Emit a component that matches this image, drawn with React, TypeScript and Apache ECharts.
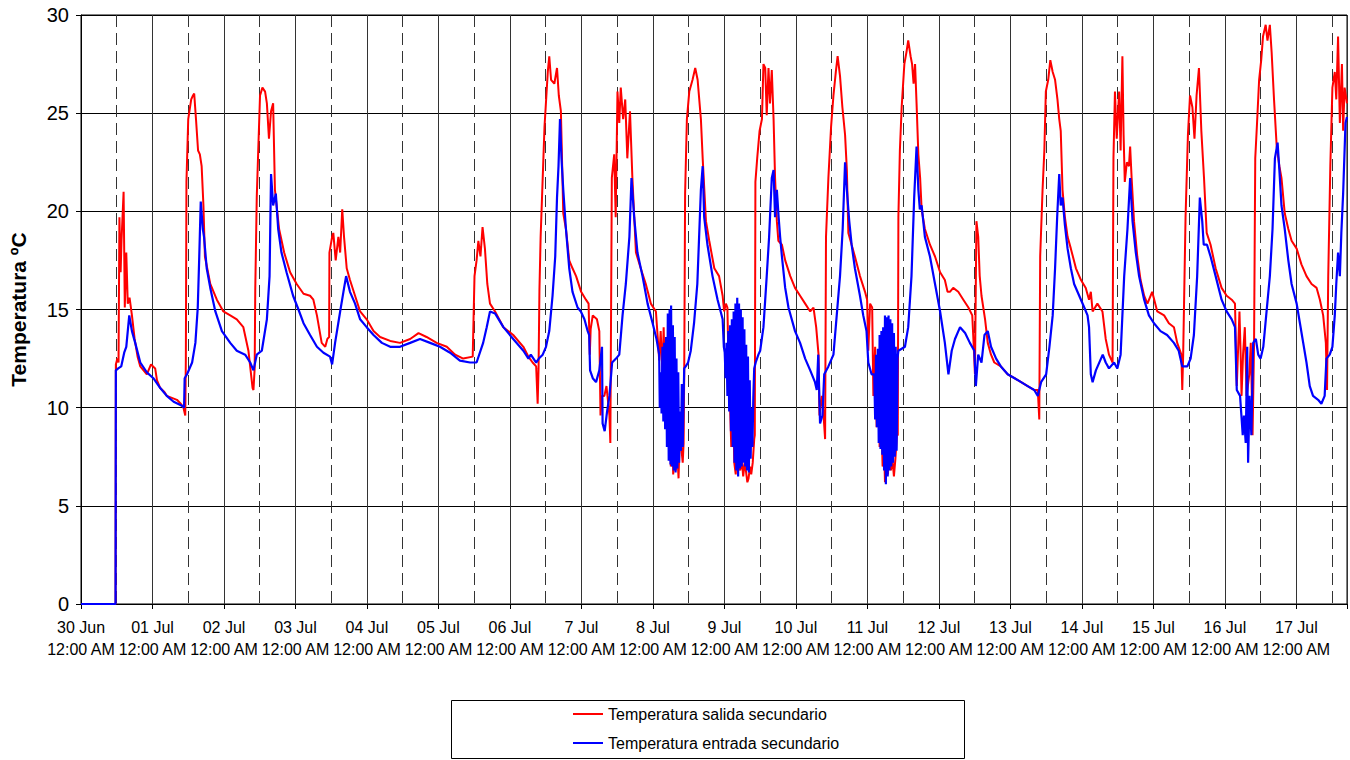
import React, { useEffect, useRef } from "react";
import * as echarts from "echarts";

// Hours since 30 Jun 12:00 AM → temperature (ºC)
const dayLabels = [
  "30 Jun", "01 Jul", "02 Jul", "03 Jul", "04 Jul", "05 Jul", "06 Jul", "7 Jul", "8 Jul",
  "9 Jul", "10 Jul", "11 Jul", "12 Jul", "13 Jul", "14 Jul", "15 Jul", "16 Jul", "17 Jul",
];
const timeLabel = "12:00 AM";
const seriesNames = ["Temperatura salida secundario", "Temperatura entrada secundario"];
const yAxisName = "Temperatura ºC";

const salidaSecundario: [number, number][] = [
  [0, 0], [11.6, 0], [11.7, 12.2], [12.2, 12.5], [12.6, 12.3], [12.9, 19.7], [13.3, 16.9], [13.6, 18.5],
  [14.3, 21.0], [14.7, 15.1], [15.2, 17.9], [15.7, 15.3], [16.3, 15.6], [17.1, 14.7], [18.0, 13.5],
  [19.0, 12.6], [19.9, 12.1], [21, 11.9], [22.1, 11.7], [23.5, 12.2], [24.9, 12.0], [25.5, 11.4],
  [26.6, 11.0], [28, 10.8], [28.8, 10.6], [30.5, 10.5], [32.2, 10.4], [33.5, 10.2], [34.4, 10.0],
  [35.0, 9.6], [35.2, 12.5], [35.4, 21.5], [36.0, 24.7], [37.0, 25.7], [37.6, 25.9], [38.0, 26.0],
  [38.6, 24.7], [39.3, 23.1], [39.9, 22.9], [40.5, 22.3], [41.1, 20.3], [41.6, 17.7], [43.4, 16.3],
  [45.6, 15.5], [47.8, 14.9], [50.1, 14.7], [52.3, 14.5], [54.5, 14.1], [56.2, 12.9], [57.6, 11.0],
  [57.9, 10.9], [58.3, 12.0], [58.5, 16], [59.0, 20.7], [59.5, 23.1], [60.1, 25.9], [60.9, 26.3],
  [61.8, 26.1], [62.4, 25.5], [63.1, 23.7], [63.8, 25.1], [64.5, 25.5], [65.1, 21.1], [66.5, 19.1],
  [68.2, 17.9], [70.2, 16.9], [72.4, 16.3], [74.7, 15.8], [76.9, 15.7], [78.0, 15.5], [79.2, 14.7],
  [80.8, 13.3], [82.0, 13.1], [82.7, 13.5], [83.3, 13.6], [83.4, 17.9], [84.3, 18.7], [84.7, 18.9],
  [85.5, 17.5], [86.4, 18.7], [87.0, 17.9], [87.7, 20.1], [88.3, 18.7], [89.2, 17.1], [90.3, 16.5],
  [92.0, 15.7], [93.7, 14.9], [95.9, 14.5], [98.2, 13.9], [100.4, 13.6], [103.8, 13.4], [107.1, 13.3],
  [110.5, 13.5], [113.3, 13.8], [116.0, 13.6], [119.4, 13.3], [122.8, 13.1], [125.6, 12.7],
  [128.3, 12.5], [131.5, 12.6], [132.1, 16.7], [132.8, 17.5], [133.4, 18.5], [134.1, 17.7],
  [134.8, 19.2], [135.6, 18.1], [136.4, 16.3], [137.3, 15.3], [139.0, 14.9], [141.8, 14.1],
  [145.1, 13.7], [148.5, 13.1], [150.2, 12.6], [151.6, 12.3], [152.8, 12.1], [153.3, 10.2],
  [153.6, 12.0], [153.9, 16.0], [154.3, 18.7], [155.6, 24.3], [156.7, 27.1], [157.2, 27.9],
  [157.8, 26.7], [158.9, 26.5], [159.8, 27.3], [160.4, 25.9], [161.1, 25.1], [161.9, 19.9],
  [162.8, 19.1], [163.9, 17.5], [165.0, 17.1], [166.2, 16.7], [167.9, 15.9], [169.5, 15.5],
  [170.4, 15.3], [170.8, 12.7], [171.1, 14.0], [171.8, 14.7], [173.2, 14.5], [174.0, 13.9],
  [174.4, 9.6], [174.9, 10.6], [175.7, 10.6], [176.4, 11.1], [177.4, 9.6], [177.7, 8.2], [178.2, 21.7],
  [179.0, 22.9], [179.5, 19.7], [180.1, 26.1], [180.7, 24.5], [181.2, 26.3], [182.0, 24.7],
  [182.7, 25.7], [183.4, 22.7], [184.3, 25.1], [185.1, 21.7], [186.3, 17.9], [187.9, 17.1],
  [189.6, 16.3], [191.3, 15.3], [193.0, 14.9], [193.6, 13.6], [194.1, 12.4], [194.6, 13.9],
  [195.2, 11.7], [195.6, 14.1], [196.0, 11.5], [196.4, 9.0], [196.8, 12.5], [197.2, 8.0],
  [197.6, 10.5], [198.0, 7.0], [198.4, 9.5], [198.8, 6.6], [199.2, 7.5], [199.7, 6.8], [200.1, 8.0],
  [200.6, 6.4], [201.0, 8.6], [201.5, 8.0], [202.0, 7.2], [202.3, 8.2], [202.5, 11.7], [202.8, 20.9],
  [203.4, 24.7], [204.2, 26.1], [205.3, 26.7], [206.2, 27.3], [207.0, 26.7], [208.1, 24.7],
  [208.7, 22.7], [209.8, 19.5], [210.9, 18.5], [212.6, 17.1], [214.2, 16.7], [215.4, 15.7],
  [215.9, 14.9], [216.5, 15.3], [217.0, 15.1], [217.4, 12.0], [217.8, 10.5], [218.3, 8.0],
  [218.8, 11], [219.3, 7.2], [219.8, 6.6], [220.3, 8.5], [220.8, 7.0], [221.3, 6.8], [221.8, 7.4],
  [222.3, 6.5], [222.8, 7.2], [223.2, 6.8], [223.7, 6.2], [224.1, 6.4], [224.6, 7.0], [225.0, 6.6],
  [225.5, 7.2], [226.0, 8.4], [226.2, 8.6], [226.4, 21.5], [227.0, 22.7], [227.8, 24.1], [228.6, 24.7],
  [229.1, 27.5], [229.7, 27.3], [230.2, 24.9], [230.8, 27.3], [231.3, 25.5], [231.9, 27.2],
  [232.5, 24.7], [233.0, 21.7], [233.6, 19.5], [234.1, 18.5], [235.3, 18.3], [236.4, 17.5],
  [238.1, 16.7], [239.7, 16.1], [241.4, 15.7], [243.1, 15.3], [244.8, 14.9], [245.9, 15.1],
  [246.8, 14.1], [247.6, 12.7], [247.9, 9.6], [248.7, 10.6], [249.2, 9.8], [249.8, 8.4], [250.1, 18.7],
  [250.9, 21.7], [251.8, 24.3], [252.6, 25.9], [253.4, 27.1], [254.0, 27.9], [254.8, 26.9],
  [255.6, 25.3], [256.5, 23.9], [257.1, 22.1], [257.6, 18.9], [258.7, 18.3], [259.8, 17.7],
  [261.5, 16.7], [263.2, 15.9], [263.9, 15.5], [264.3, 12.9], [264.9, 15.3], [265.6, 15.1],
  [266.0, 10.6], [266.6, 13.1], [267.1, 9.0], [267.6, 12.0], [268.1, 8.0], [268.6, 10.0], [269.1, 7.0],
  [269.6, 8.0], [269.9, 6.2], [270.4, 7.5], [270.9, 6.6], [271.4, 8.2], [271.9, 6.8], [272.4, 7.4],
  [272.9, 6.5], [273.4, 7.4], [273.9, 8.6], [274.2, 8.6], [274.4, 19.7], [274.9, 23.1], [275.5, 25.3],
  [276.4, 27.5], [277.1, 28.1], [277.7, 28.7], [278.5, 27.9], [279.0, 27.5], [279.5, 26.5],
  [280.0, 27.5], [280.5, 25.5], [281.1, 22.9], [281.7, 21.7], [282.2, 20.1], [283.3, 19.1],
  [285.0, 18.3], [286.7, 17.7], [288.4, 16.9], [290.0, 16.5], [290.9, 15.9], [291.7, 15.9],
  [292.8, 16.1], [294.5, 15.9], [296.2, 15.5], [297.9, 15.1], [299.2, 14.7], [299.7, 13.1],
  [300.1, 11.7], [300.6, 19.5], [301.2, 18.7], [301.7, 16.7], [302.3, 15.7], [303.5, 14.5],
  [304.4, 13.3], [305.5, 12.7], [306.6, 12.3], [308.8, 12.1], [311.1, 11.7], [313.4, 11.5],
  [315.6, 11.3], [317.8, 11.1], [320.0, 10.9], [321.2, 10.9], [321.7, 9.4], [322.0, 17.7],
  [322.8, 21.1], [323.4, 23.1], [323.9, 26.1], [324.7, 26.7], [325.4, 27.7], [326.2, 27.1],
  [327.0, 26.7], [327.8, 25.7], [328.4, 24.7], [328.9, 24.1], [329.5, 21.1], [330.3, 19.7],
  [331.2, 18.7], [332.3, 18.1], [334.0, 17.1], [335.7, 16.5], [337.3, 16.1], [338.4, 15.5],
  [339.0, 15.9], [339.6, 14.9], [341.2, 15.3], [342.9, 14.9], [344.0, 13.5], [345.1, 12.7],
  [346.3, 12.3], [346.6, 22.7], [347.1, 26.1], [347.7, 23.7], [348.5, 26.1], [349.0, 23.1],
  [349.6, 27.9], [350.0, 23.9], [350.4, 21.5], [351.1, 22.5], [351.8, 22.3], [352.2, 23.3],
  [352.7, 21.7], [353.5, 19.5], [354.6, 17.7], [355.7, 16.5], [356.9, 15.7], [358.0, 15.3],
  [359.6, 15.9], [361.3, 14.9], [363.6, 14.7], [365.2, 14.3], [366.9, 14.1], [368.0, 13.3],
  [369.4, 12.7], [369.7, 10.9], [370.0, 12.7], [370.8, 19.7], [371.6, 23.9], [372.3, 25.9],
  [373.1, 25.3], [373.8, 23.7], [374.5, 25.9], [375.3, 27.3], [376.1, 24.1], [377.0, 21.7],
  [377.9, 18.9], [379.2, 18.3], [380.9, 17.1], [382.9, 16.1], [384.6, 15.7], [386.3, 15.5],
  [387.4, 15.3], [388.0, 11.1], [388.9, 14.9], [389.3, 12.7], [389.6, 10.6], [390.1, 12.7],
  [390.7, 14.1], [391.3, 10.6], [392.2, 11.7], [392.7, 13.3], [393.3, 8.6], [393.8, 13.3],
  [394.2, 22.7], [394.8, 24.5], [395.5, 26.7], [396.2, 27.7], [396.8, 28.9], [397.7, 29.5],
  [398.3, 28.7], [399.1, 29.5], [399.7, 28.1], [400.5, 25.7], [401.4, 23.3], [402.3, 22.3],
  [403.0, 21.7], [404.1, 19.9], [405.3, 19.1], [406.4, 18.5], [408.1, 18.1], [409.7, 17.3],
  [411.4, 16.7], [413.1, 16.3], [414.8, 16.1], [415.9, 15.5], [417.0, 14.7], [417.9, 13.3],
  [418.3, 10.9], [418.7, 16.7], [419.4, 22.3], [420.1, 26.3], [420.9, 27.1], [421.4, 25.7],
  [422.0, 28.9], [422.6, 24.5], [423.3, 27.5], [423.7, 24.1], [424.2, 26.3], [425, 25.5],
];

const entradaSecundario: [number, number][] = [
  [0, 0], [11.6, 0], [11.7, 11.9], [12.5, 12.0], [13.5, 12.1], [14.5, 12.8], [15.2, 13.1], [16.2, 14.7],
  [17.1, 13.9], [18.2, 13.3], [19.9, 12.3], [22.1, 11.8], [24.3, 11.5], [26.6, 11.0], [28.8, 10.6],
  [31.1, 10.3], [33.9, 10.1], [34.6, 10.0], [34.8, 11.5], [35.6, 11.7], [37.3, 12.3], [38.4, 13.3],
  [39.2, 15.1], [39.7, 17.7], [40.2, 20.5], [40.9, 19.1], [41.3, 18.7], [42.2, 17.1], [43.4, 16.1],
  [45.1, 14.9], [47.3, 13.9], [50.1, 13.3], [52.3, 12.9], [55.1, 12.7], [56.8, 12.3], [57.9, 11.9],
  [59.0, 12.7], [60.7, 12.9], [62.4, 14.5], [63.3, 16.7], [63.8, 21.9], [64.5, 20.3], [65.4, 20.9],
  [66.2, 19.1], [67.3, 17.9], [69.0, 16.9], [71.2, 15.7], [73.0, 15.0], [74.7, 14.3], [76.9, 13.7],
  [79.2, 13.1], [81.4, 12.8], [83.6, 12.6], [84.3, 12.2], [85.3, 13.3], [87.0, 14.9], [88.1, 15.9],
  [89.0, 16.7], [90.3, 15.9], [92.0, 15.3], [93.7, 14.5], [95.9, 14.1], [98.2, 13.7], [101.0, 13.3],
  [103.8, 13.1], [107.1, 13.1], [110.5, 13.3], [113.8, 13.5], [117.2, 13.3], [120.5, 13.1],
  [123.9, 12.8], [127.2, 12.4], [130.6, 12.3], [132.8, 12.3], [135.0, 13.3], [136.2, 14.1],
  [137.3, 14.9], [139.0, 14.8], [141.8, 14.1], [145.1, 13.5], [148.5, 12.9], [150.2, 12.5],
  [151.0, 12.7], [152.8, 12.3], [153.7, 12.5], [155.0, 12.7], [156.1, 13.1], [157.2, 13.9],
  [158.3, 15.7], [159.2, 17.7], [159.8, 20.7], [160.3, 22.3], [160.8, 24.7], [161.3, 22.7],
  [161.9, 21.1], [162.8, 19.1], [163.9, 17.1], [165.0, 15.9], [166.7, 15.1], [167.8, 14.9],
  [169.0, 14.5], [170.1, 13.9], [170.6, 13.7], [170.9, 11.9], [171.8, 11.5], [172.9, 11.3],
  [174.0, 11.9], [174.9, 13.1], [175.1, 9.2], [175.8, 8.8], [176.6, 9.8], [177.4, 10.6], [178.3, 12.3],
  [179.6, 12.5], [180.7, 12.7], [181.8, 14.7], [182.9, 16.3], [184.1, 18.7], [184.8, 21.7],
  [185.7, 19.7], [186.8, 17.9], [188.5, 16.7], [190.2, 15.3], [191.9, 14.3], [193.2, 13.5],
  [194.1, 12.7], [194.3, 10.0], [194.6, 11.8], [194.9, 9.7], [195.2, 13.1], [195.5, 9.3], [195.8, 13.3],
  [196.1, 8.9], [196.4, 13.6], [196.7, 8.0], [197.0, 14.8], [197.3, 7.3], [197.6, 15.0], [197.9, 7.1],
  [198.1, 15.2], [198.4, 7.0], [198.7, 14.2], [199.0, 6.8], [199.3, 13.6], [199.6, 6.7], [199.9, 12.5],
  [200.2, 6.9], [200.5, 11.8], [200.8, 7.2], [201.1, 9.8], [201.4, 7.8], [201.7, 11.2], [202.0, 8.0],
  [202.3, 10.5], [202.5, 12.0], [203.0, 12.1], [203.8, 12.3], [204.7, 12.9], [205.8, 14.3],
  [206.9, 16.3], [208.1, 21.1], [208.7, 22.3], [209.2, 19.7], [210.3, 18.3], [212.0, 16.7],
  [213.7, 15.5], [215.4, 14.5], [215.8, 13.1], [216.1, 12.8], [216.4, 11.5], [216.7, 13.3],
  [217.0, 10.6], [217.3, 13.9], [217.6, 9.8], [217.9, 14.2], [218.2, 8.8], [218.5, 14.5], [218.8, 8.0],
  [219.1, 14.9], [219.4, 7.2], [219.7, 15.3], [220.0, 6.8], [220.3, 15.6], [220.6, 6.5], [220.9, 15.3],
  [221.2, 6.9], [221.5, 15.0], [221.8, 7.0], [222.1, 14.6], [222.4, 7.2], [222.7, 14.0], [223.0, 7.0],
  [223.3, 13.2], [223.6, 6.8], [223.9, 12.6], [224.2, 6.7], [224.5, 11.4], [224.8, 7.4], [225.1, 10.0],
  [225.4, 8.0], [225.7, 10.5], [226.0, 12.0], [226.5, 12.3], [227.4, 12.7], [228.0, 12.9],
  [229.1, 14.1], [230.2, 16.7], [231.0, 18.7], [231.9, 21.7], [232.5, 22.1], [233.0, 19.7],
  [233.6, 21.1], [234.2, 19.7], [234.7, 18.7], [235.3, 17.7], [236.4, 16.1], [237.5, 15.1],
  [239.7, 13.9], [241.4, 13.3], [243.1, 12.5], [244.8, 11.9], [246.4, 11.3], [247.0, 10.9],
  [247.5, 12.7], [248.1, 9.2], [248.9, 9.6], [249.5, 11.7], [250.9, 12.1], [252.6, 12.7],
  [253.7, 14.7], [254.8, 16.7], [255.7, 19.1], [256.5, 22.5], [257.1, 21.1], [257.9, 19.5],
  [258.7, 18.3], [259.8, 17.1], [261.5, 15.7], [262.6, 14.7], [263.7, 13.9], [264.3, 12.3],
  [265.4, 11.7], [266.3, 11.7], [266.6, 9.4], [266.9, 12.7], [267.2, 9.0], [267.5, 13.0], [267.8, 8.2],
  [268.1, 13.7], [268.4, 7.9], [268.7, 13.9], [269.0, 7.6], [269.3, 14.1], [269.6, 6.8], [269.9, 14.7],
  [270.2, 6.1], [270.5, 14.6], [270.8, 6.5], [271.1, 14.7], [271.4, 6.8], [271.7, 14.5], [272.0, 7.0],
  [272.3, 14.3], [272.6, 7.2], [272.9, 13.8], [273.2, 7.5], [273.5, 13.1], [273.8, 7.8], [274.1, 12.5],
  [274.4, 12.9], [275.5, 13.0], [276.6, 13.1], [277.7, 14.1], [278.8, 16.7], [279.7, 20.7],
  [280.5, 23.3], [281.1, 21.1], [281.6, 20.1], [282.2, 20.3], [283.3, 18.7], [285.0, 17.7],
  [286.7, 16.3], [288.4, 14.9], [290.0, 13.3], [291.2, 11.7], [292.3, 12.9], [293.4, 13.5],
  [295.1, 14.1], [296.8, 13.8], [298.4, 13.3], [299.9, 12.9], [300.4, 11.1], [301.2, 12.7],
  [302.3, 12.3], [303.3, 13.7], [304.4, 13.9], [305.5, 13.1], [307.2, 12.5], [308.8, 12.1],
  [311.1, 11.7], [313.4, 11.5], [315.6, 11.3], [317.8, 11.1], [320.0, 10.9], [321.2, 10.6],
  [322.3, 11.3], [324.0, 11.7], [325.1, 13.1], [326.2, 14.7], [327.0, 17.1], [327.7, 19.7],
  [328.4, 21.9], [328.9, 20.3], [329.5, 20.7], [330.3, 19.3], [331.2, 18.1], [332.3, 17.1],
  [333.4, 16.3], [335.1, 15.7], [336.8, 15.1], [337.9, 14.7], [338.4, 14.1], [339.0, 11.7],
  [339.6, 11.3], [340.7, 11.9], [343.0, 12.7], [344.0, 12.3], [345.1, 12.0], [346.8, 12.3],
  [347.9, 12.0], [349.0, 12.7], [350.2, 16.7], [351.3, 19.1], [352.2, 21.7], [353.0, 19.5],
  [354.1, 17.9], [355.2, 16.7], [356.9, 15.5], [358.5, 14.7], [360.2, 14.3], [362.4, 13.9],
  [364.6, 13.7], [366.9, 13.3], [368.5, 12.9], [369.7, 12.1], [371.4, 12.1], [372.5, 12.5],
  [373.6, 13.7], [374.7, 16.7], [375.6, 20.7], [376.4, 19.5], [376.9, 18.3], [378.0, 18.3],
  [379.2, 17.7], [380.9, 16.7], [382.9, 15.5], [384.6, 14.9], [386.3, 14.5], [387.4, 14.1],
  [388.0, 10.9], [389.1, 10.6], [390.0, 8.6], [390.4, 9.6], [391.0, 8.2], [391.5, 13.1], [391.8, 7.2],
  [392.3, 10.6], [392.9, 8.6], [393.5, 13.3], [394.4, 13.5], [395.2, 12.7], [396.0, 12.5],
  [396.9, 13.1], [398.0, 14.9], [399.1, 16.7], [400.0, 19.1], [400.8, 22.7], [401.7, 23.5],
  [402.3, 22.1], [403.0, 20.3], [404.1, 19.1], [405.3, 17.5], [406.4, 16.3], [408.1, 15.3],
  [409.2, 14.3], [410.3, 13.3], [411.4, 12.3], [412.5, 11.1], [413.6, 10.6], [415.3, 10.4],
  [416.4, 10.2], [417.5, 10.6], [418.1, 12.5], [419.2, 12.7], [420.1, 13.1], [420.9, 14.7],
  [421.4, 16.3], [422.0, 17.9], [422.6, 16.7], [423.1, 18.9], [423.7, 20.9], [424.5, 24.5], [425, 24.8],
];

const X_MAX_HOURS = 425;
const FONT = "'Liberation Sans', Arial, sans-serif";

export default function App() {
  const ref = useRef<HTMLDivElement>(null);

  useEffect(() => {
    document.body.style.margin = "0";
    if (!ref.current) return;
    const chart = echarts.init(ref.current, undefined, { renderer: "svg" });
    chart.setOption({
      animation: false,
      backgroundColor: "#fff",
      textStyle: { fontFamily: FONT, color: "#000" },
      grid: {
        left: 80, right: 2, top: 15, bottom: 156,
        show: true, borderColor: "#000", borderWidth: 1, backgroundColor: "transparent",
      },
      legend: {
        orient: "vertical",
        left: 573,
        top: 705,
        padding: 0,
        itemGap: 11,
        itemWidth: 30,
        itemHeight: 2,
        icon: "rect",
        textStyle: { fontSize: 16, color: "#000", fontFamily: FONT, lineHeight: 18, padding: [0, 0, 0, 0] },
        data: seriesNames,
      },
      graphic: [
        {
          type: "rect",
          shape: { x: 451.5, y: 700.5, width: 513, height: 58 },
          style: { fill: "none", stroke: "#000", lineWidth: 1 },
          silent: true,
        },
      ],
      xAxis: [
        {
          type: "value",
          min: 0,
          max: X_MAX_HOURS,
          interval: 24,
          axisLine: { show: true, lineStyle: { color: "#000", width: 1 } },
          axisTick: { show: true, length: 5, lineStyle: { color: "#000" } },
          axisLabel: {
            fontSize: 16,
            lineHeight: 22,
            margin: 12,
            color: "#000",
            fontFamily: FONT,
            formatter: (v: number) =>
              v % 24 === 0 && dayLabels[v / 24] ? `${dayLabels[v / 24]}\n${timeLabel}` : "",
          },
          splitLine: { show: true, lineStyle: { color: "#333", width: 1 } },
        },
        {
          type: "value",
          min: 0,
          max: X_MAX_HOURS,
          interval: 12,
          position: "top",
          axisLine: { show: false },
          axisTick: { show: false },
          axisLabel: { show: false },
          splitLine: { show: true, lineStyle: { color: "#333", width: 1, type: [12, 6] } },
        },
      ],
      yAxis: {
        type: "value",
        min: 0,
        max: 30,
        interval: 5,
        name: yAxisName,
        nameLocation: "middle",
        nameGap: 52,
        nameTextStyle: { fontSize: 21, fontWeight: "bold", color: "#000", fontFamily: FONT },
        axisLine: { show: true, lineStyle: { color: "#000", width: 1 } },
        axisTick: { show: true, length: 5, lineStyle: { color: "#000" } },
        axisLabel: { fontSize: 20, color: "#000", margin: 12, fontFamily: FONT },
        splitLine: { show: true, lineStyle: { color: "#000", width: 1 } },
      },
      series: [
        {
          name: seriesNames[0],
          type: "line",
          xAxisIndex: 0,
          data: salidaSecundario,
          showSymbol: false,
          symbol: "none",
          lineStyle: { color: "#ff0000", width: 2 },
          itemStyle: { color: "#ff0000" },
          z: 2,
        },
        {
          name: seriesNames[1],
          type: "line",
          xAxisIndex: 0,
          data: entradaSecundario,
          showSymbol: false,
          symbol: "none",
          lineStyle: { color: "#0000ff", width: 2.2 },
          itemStyle: { color: "#0000ff" },
          z: 3,
        },
      ],
    });
    return () => chart.dispose();
  }, []);

  return (
    <div
      ref={ref}
      style={{ position: "absolute", left: 0, top: 0, width: 1350, height: 760, background: "#fff" }}
    />
  );
}
